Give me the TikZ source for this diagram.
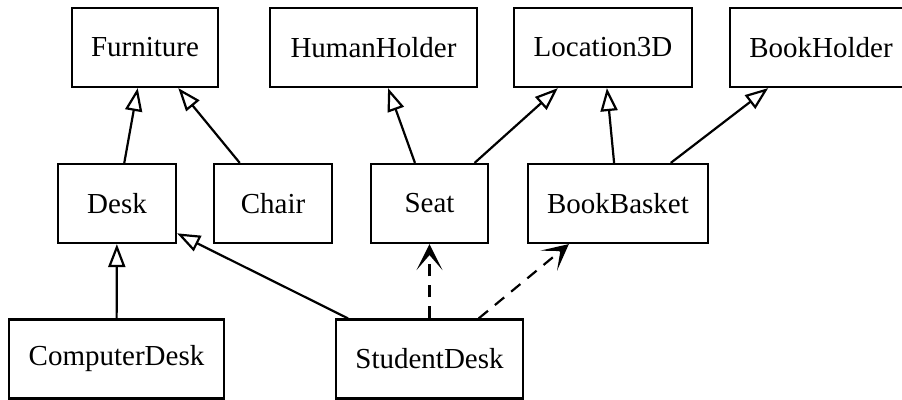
\documentclass[tikz,border=0pt]{standalone}
\usepackage{fontspec}
\setmainfont{Liberation Serif}
\usetikzlibrary{arrows.meta}
\tikzset{
  cls/.style={draw, line width=2.2pt, inner sep=0pt, minimum height=79pt,
    font=\fontsize{29}{34}\selectfont},
  extends/.style={line width=2.2pt, -{Triangle[open, length=23pt, width=17pt]}},
  uses/.style={line width=2.2pt, dash pattern=on 12pt off 9pt,
    -{Stealth[length=26pt, width=26pt, inset=15pt]}},
}

\begin{document}
\begin{tikzpicture}[x=1pt, y=-1pt]
  \useasboundingbox (0,0) rectangle (902,399);
  % base classes
  \node[cls, minimum width=146pt] (furniture) at (145,47.5) {Furniture};
  \node[cls, minimum width=207pt] (humanholder) at (373.5,47.5) {HumanHolder};
  \node[cls, minimum width=178pt] (location) at (603,47.5) {Location3D};
  \node[cls, minimum width=182pt] (bookholder) at (821,47.5) {BookHolder};
  % middle row
  \node[cls, minimum width=118pt] (desk) at (117,203.5) {Desk};
  \node[cls, minimum width=118pt] (chair) at (273,203.5) {Chair};
  \node[cls, minimum width=117pt] (seat) at (429.5,203.5) {Seat};
  \node[cls, minimum width=180pt] (bookbasket) at (618,203.5) {BookBasket};
  % bottom row
  \node[cls, minimum width=215pt] (computerdesk) at (116.5,359) {ComputerDesk};
  \node[cls, minimum width=187pt] (studentdesk) at (429.5,359) {StudentDesk};

  \draw[extends] (desk) -- (furniture);
  \draw[extends] (chair) -- (furniture);
  \draw[extends] (seat) -- (humanholder);
  \draw[extends] (seat) -- (location);
  \draw[extends] (bookbasket) -- (location);
  \draw[extends] (bookbasket) -- (bookholder);
  \draw[extends] (computerdesk) -- (desk);
  \draw[extends] (studentdesk) -- (desk);
  \draw[uses] (studentdesk) -- (seat);
  \draw[uses] (studentdesk) -- (bookbasket);
\end{tikzpicture}
\end{document}
